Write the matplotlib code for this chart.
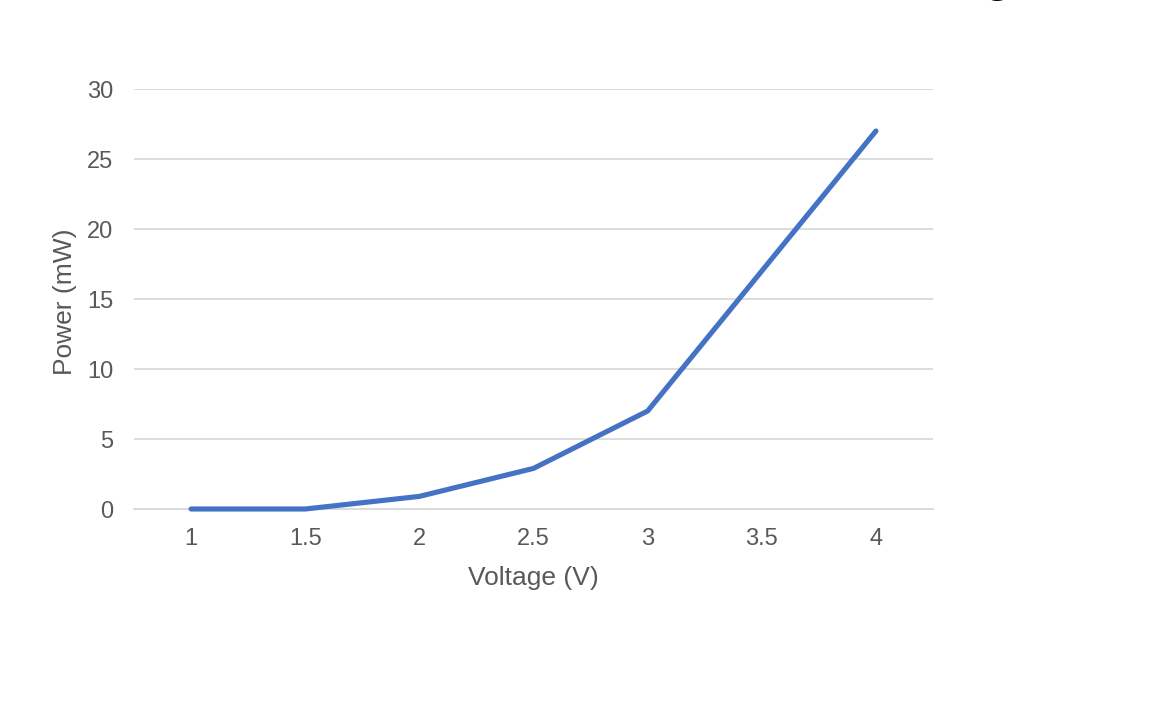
import matplotlib
matplotlib.use("Agg")
import matplotlib.pyplot as plt

plt.rcParams['font.family'] = ['Liberation Sans', 'DejaVu Sans']

voltage = ["1", "1.5", "2", "2.5", "3", "3.5", "4"]
power_mw = [0, 0, 0.9, 2.9, 7, 17, 27]
y_ticks = [0, 5, 10, 15, 20, 25, 30]

W, H = 1170, 706
fig = plt.figure(figsize=(W / 100, H / 100), dpi=100)
ax = fig.add_axes([134 / W, 1 - 509 / H, (933 - 134) / W, (509 - 89) / H])

positions = list(range(len(voltage)))
ax.plot(positions, power_mw, color="#4472C4", lw=3.7, clip_on=False,
        solid_capstyle="round", solid_joinstyle="round", zorder=3)

ax.set_xlim(-0.5, len(voltage) - 0.5)
ax.set_ylim(0, 30)
ax.set_xticks(positions)
ax.set_xticklabels(voltage)
ax.set_yticks(y_ticks)

ax.grid(axis="y", color="#D9D9D9", lw=1.3)
ax.set_axisbelow(True)
for side in ("top", "right", "left"):
    ax.spines[side].set_visible(False)
ax.spines["bottom"].set_color("#D9D9D9")
ax.spines["bottom"].set_linewidth(1.3)

ax.tick_params(axis="both", length=0, labelsize=17, labelcolor="#595959")
ax.tick_params(axis="y", pad=15)
ax.tick_params(axis="x", pad=14)

ax.set_xlabel("Voltage (V)", fontsize=19, color="#595959")
ax.set_ylabel("Power (mW)", fontsize=19, color="#595959")
ax.xaxis.label.set_va("center")
ax.yaxis.label.set_va("center")
ax.xaxis.set_label_coords((533 - 134) / 799, (509 - 578) / 420)
ax.yaxis.set_label_coords((65 - 134) / 799, (509 - 302) / 420)

# Title sits mostly above the visible canvas
fig.text(997 / W, 1 + 10 / H, "g", fontsize=38, color="black",
         ha="center", va="baseline")

fig.savefig("out.png", dpi=100, facecolor="white")
